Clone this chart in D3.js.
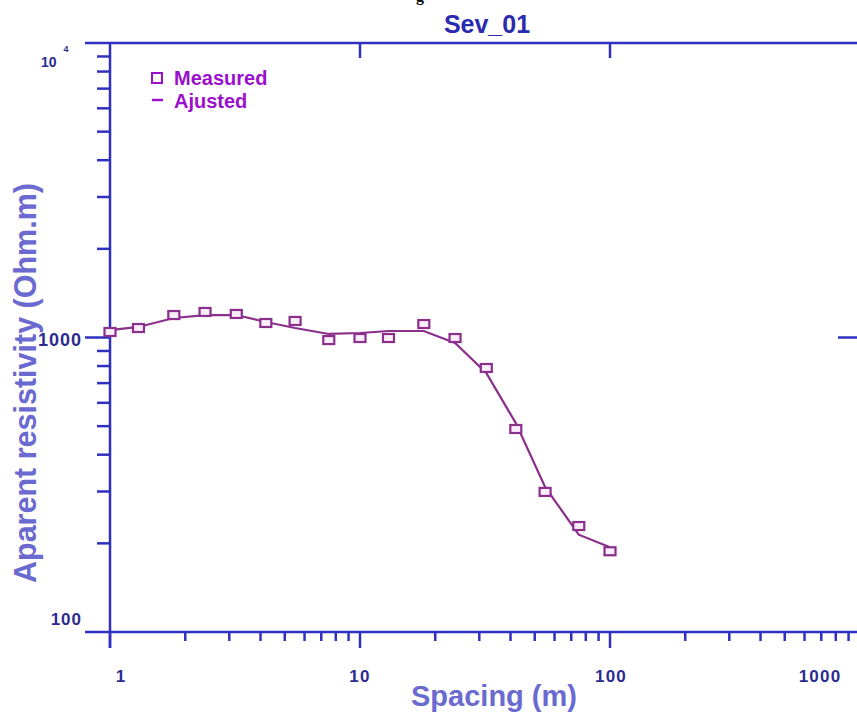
<!DOCTYPE html>
<html>
<head>
<meta charset="utf-8">
<script src="https://cdn.jsdelivr.net/npm/d3@7"></script>
<style>
  body { margin: 0; background: #fff; }
  text { font-family: Arial, "Liberation Sans", sans-serif; font-weight: bold; }
</style>
</head>
<body>
<script>
// measured sounding (AB/2 in m, apparent resistivity in Ohm.m)
var spacing  = [1, 1.3, 1.8, 2.4, 3.2, 4.2, 5.5, 7.5, 10, 13, 18, 24, 32, 42, 55, 75, 100];
var measured = [1044, 1077, 1192, 1221, 1202, 1120, 1138, 980, 996, 996, 1111, 996, 788, 489, 299, 229, 188];
// fitted model curve, same spacings
var adjusted = [1060, 1086, 1165, 1192, 1192, 1129, 1077, 1028, 1036, 1052, 1052, 958, 758, 512, 311, 214, 194];

var xTickLabels = ['1', '10', '100', '1000'];
var xTickValues = [1, 10, 100, 1000];
var chartTitle = 'Sev_01';

var screen = { width: 857, height: 715 };
var axisColor = '#3030c0';
var labelColor = '#2c2c90';
var titleColor = '#6a6ad0';
var markColor = '#8a2f8c';
var legendColor = '#9a10cc';

var xScale = d3.scaleLog().domain([1, 1000]).range([110, 860]);
var yScale = d3.scaleLog().domain([100, 10000]).range([632, 43]);

var svg = d3.select('body').append('svg')
            .attr('width', screen.width)
            .attr('height', screen.height);

// bottom of a caption from the page above, cropped like the original
svg.append('text')
   .attr('x', 420).attr('y', 1)
   .attr('text-anchor', 'middle')
   .style('font-family', '"Liberation Serif", serif')
   .attr('font-size', 16)
   .attr('fill', '#111')
   .text('g');

var isMajor = function(v){ return Math.abs(Math.log10(v) - Math.round(Math.log10(v))) < 1e-9; };
var axes = svg.append('g').attr('stroke', axisColor).attr('stroke-width', 2.5).attr('fill', 'none');

// frame lines
var x0 = xScale(1), yb = yScale(100), yt = yScale(10000);
axes.append('line').attr('x1', 85).attr('x2', screen.width).attr('y1', yb).attr('y2', yb);
axes.append('line').attr('x1', 85).attr('x2', screen.width).attr('y1', yt).attr('y2', yt);
axes.append('line').attr('x1', x0).attr('x2', x0).attr('y1', yt).attr('y2', yb + 16);

// bottom ticks
var xt = xScale.ticks();
axes.selectAll('.xb').data(xt).enter().append('line')
    .attr('x1', function(d){ return xScale(d); })
    .attr('x2', function(d){ return xScale(d); })
    .attr('y1', yb)
    .attr('y2', function(d){ return yb + (isMajor(d) ? 16 : 9); });

// top ticks (decades only)
axes.selectAll('.xt').data([10, 100]).enter().append('line')
    .attr('x1', function(d){ return xScale(d); })
    .attr('x2', function(d){ return xScale(d); })
    .attr('y1', yt).attr('y2', yt + 15);

// left ticks
var yt2 = yScale.ticks().filter(function(d){ return d > 100 && d < 10000; });
axes.selectAll('.yl').data(yt2).enter().append('line')
    .attr('x1', function(d){ return x0 - (isMajor(d) ? 25 : 13); })
    .attr('x2', x0)
    .attr('y1', function(d){ return yScale(d); })
    .attr('y2', function(d){ return yScale(d); });

// right tick at 1000
axes.append('line')
    .attr('x1', xScale(1000) - 22).attr('x2', xScale(1000))
    .attr('y1', yScale(1000)).attr('y2', yScale(1000));

// x tick labels
var xLabelShift = [11, 0, 1, -40];
svg.selectAll('.xlab').data(xTickValues).enter().append('text')
   .attr('x', function(d, i){ return xScale(d) + xLabelShift[i]; })
   .attr('y', yb + 50)
   .attr('text-anchor', 'middle')
   .attr('font-size', 17)
   .attr('letter-spacing', 1.2)
   .attr('fill', labelColor)
   .text(function(d, i){ return xTickLabels[i]; });

// y tick labels
svg.append('text').attr('x', 82).attr('y', yScale(1000) + 8)
   .attr('text-anchor', 'end').attr('font-size', 18).attr('letter-spacing', 1)
   .attr('fill', labelColor).text('1000');
svg.append('text').attr('x', 82).attr('y', yScale(100) - 7)
   .attr('text-anchor', 'end').attr('font-size', 17).attr('letter-spacing', 1)
   .attr('fill', labelColor).text('100');
var sup = svg.append('text').attr('x', 41).attr('y', yScale(10000) + 24)
   .attr('font-size', 14).attr('fill', labelColor);
sup.append('tspan').text('10');
sup.append('tspan').attr('dx', 7).attr('dy', -15).attr('font-size', 9).text('4');

// title
svg.append('text')
   .attr('x', 487).attr('y', 33)
   .attr('text-anchor', 'middle')
   .attr('font-size', 25)
   .attr('fill', '#2a2ab0')
   .text(chartTitle);

// axis titles
svg.append('text')
   .attr('x', 494).attr('y', 706)
   .attr('text-anchor', 'middle')
   .attr('font-size', 29)
   .attr('fill', titleColor)
   .text('Spacing (m)');

svg.append('text')
   .attr('transform', 'translate(36,' + 383 + ') rotate(-90)')
   .attr('text-anchor', 'middle')
   .attr('font-size', 30.5)
   .attr('fill', titleColor)
   .text('Aparent resistivity (Ohm.m)');

// adjusted curve
var line = d3.line()
             .x(function(d){ return xScale(d[0]); })
             .y(function(d){ return yScale(d[1]); });
svg.append('path')
   .datum(d3.zip(spacing, adjusted))
   .attr('d', line)
   .attr('fill', 'none')
   .attr('stroke', markColor)
   .attr('stroke-width', 2.2);

// measured squares
svg.selectAll('.pt').data(d3.zip(spacing, measured)).enter().append('rect')
   .attr('x', function(d){ return xScale(d[0]) - 5.5; })
   .attr('y', function(d){ return yScale(d[1]) - 4; })
   .attr('width', 11)
   .attr('height', 8)
   .attr('fill', '#fbeefb')
   .attr('stroke', markColor)
   .attr('stroke-width', 2.2);

// legend
var legend = svg.append('g');
legend.append('rect')
      .attr('x', 152).attr('y', 73).attr('width', 10).attr('height', 10)
      .attr('fill', 'none').attr('stroke', legendColor).attr('stroke-width', 2);
legend.append('text').attr('x', 174).attr('y', 85)
      .attr('font-size', 20).attr('fill', legendColor).text('Measured');
legend.append('line')
      .attr('x1', 152).attr('x2', 163).attr('y1', 100).attr('y2', 100)
      .attr('stroke', legendColor).attr('stroke-width', 2.5);
legend.append('text').attr('x', 174).attr('y', 108)
      .attr('font-size', 20).attr('fill', legendColor).text('Ajusted');
</script>
</body>
</html>
